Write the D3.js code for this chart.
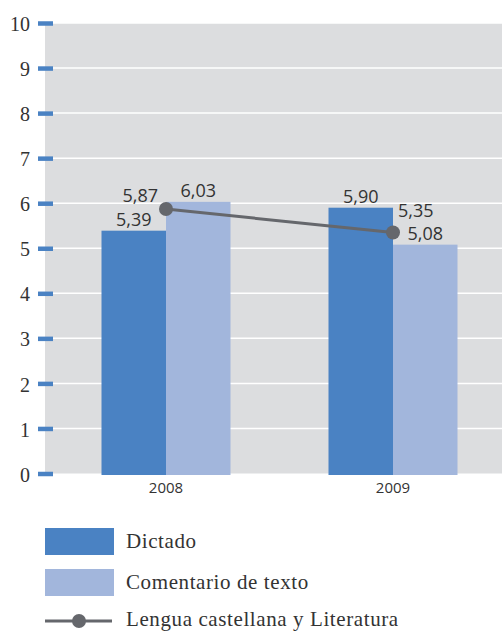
<!DOCTYPE html>
<html><head><meta charset="utf-8">
<script src="https://cdn.jsdelivr.net/npm/d3@7"></script>
<style>body{margin:0;background:#fff}svg{display:block}</style>
</head><body>
<script>
const categories = ["2008", "2009"];
const dictado = [5.39, 5.90];
const comentario = [6.03, 5.08];
const lengua = [5.87, 5.35];
const yTicks = [0,1,2,3,4,5,6,7,8,9,10];
const seriesNames = ["Dictado", "Comentario de texto", "Lengua castellana y Literatura"];

const W = 502, H = 632;
const svg = d3.select("body").append("svg").attr("width", W).attr("height", H);
const plot = {left: 45, right: 502, top: 23, bottom: 473.5};
const y = d3.scaleLinear().domain([0, 10]).range([plot.bottom, plot.top]);
const x = d3.scaleBand().domain(categories).range([52.5, 506.5]).paddingInner(0).paddingOuter(0);
const groupW = 129;
const inner = d3.scaleBand().domain(["d", "c"])
  .range([(x.bandwidth() - groupW) / 2, (x.bandwidth() + groupW) / 2]).padding(0);
const cDict = "#4a82c3", cCom = "#a2b6dc", cLine = "#65676c", txt = "#333";
const serif = "'Liberation Serif', serif";
const sans = "'Open Sans', 'Noto Sans', sans-serif";

svg.append("rect").attr("x", plot.left).attr("y", plot.top)
  .attr("width", plot.right - plot.left).attr("height", plot.bottom - plot.top).attr("fill", "#dcdddf");

// gridlines
svg.append("g").selectAll("line").data(yTicks.filter(d => d > 0)).join("line")
  .attr("x1", plot.left).attr("x2", plot.right)
  .attr("y1", d => y(d)).attr("y2", d => y(d))
  .attr("stroke", "#fff").attr("stroke-width", 1.5);

// axis
const axis = d3.axisLeft(y).tickValues(yTicks).tickSize(0).tickPadding(8).tickFormat(d3.format("d"));
const ag = svg.append("g").attr("transform", `translate(${plot.left - 7},0)`).call(axis);
ag.select(".domain").remove();
ag.selectAll("text").attr("font-family", serif).attr("font-size", 20).attr("fill", txt).attr("dy", "0.38em");
ag.selectAll(".tick").append("line").attr("x1", 0).attr("x2", 15)
  .attr("stroke", cDict).attr("stroke-width", 4.5);

// bars
const g = svg.append("g");
categories.forEach((c, i) => {
  const bx = x(c);
  g.append("rect").attr("x", bx + inner("d")).attr("y", y(dictado[i]))
    .attr("width", inner.bandwidth()).attr("height", y(0) + 1.5 - y(dictado[i])).attr("fill", cDict);
  g.append("rect").attr("x", bx + inner("c")).attr("y", y(comentario[i]))
    .attr("width", inner.bandwidth()).attr("height", y(0) + 1.5 - y(comentario[i])).attr("fill", cCom);
});

// x labels
svg.append("g").selectAll("text").data(categories).join("text")
  .attr("x", d => x(d) + x.bandwidth() / 2).attr("y", 493)
  .attr("text-anchor", "middle").attr("font-family", sans).attr("font-size", 15).attr("fill", txt)
  .text(d => d);

// line
const lx = d => x(d) + x.bandwidth() / 2;
svg.append("path").datum(categories.map((c, i) => [lx(c), y(lengua[i])]))
  .attr("d", d3.line()).attr("fill", "none").attr("stroke", cLine).attr("stroke-width", 3);
svg.append("g").selectAll("circle").data(categories).join("circle")
  .attr("cx", d => lx(d)).attr("cy", (d, i) => y(lengua[i])).attr("r", 7).attr("fill", cLine);

// data labels
const fmt = v => v.toFixed(2).replace(".", ",");
const lab = (xx, yy, t, anchor) => svg.append("text").attr("x", xx).attr("y", yy)
  .attr("text-anchor", anchor || "middle").attr("font-family", sans).attr("font-size", 18)
  .attr("fill", txt).text(t);
categories.forEach((c, i) => {
  const bx = x(c);
  const dC = bx + inner("d") + inner.bandwidth() / 2;
  const cC = bx + inner("c") + inner.bandwidth() / 2;
  lab(dC, y(dictado[i]) - 4.5, fmt(dictado[i]));
  lab(cC, y(comentario[i]) - 4.5, fmt(comentario[i]));
});
lab(lx("2008") - 8, y(lengua[0]) - 7, fmt(lengua[0]), "end");
lab(lx("2009") + 5, y(lengua[1]) - 15, fmt(lengua[1]), "start");

// legend
const lg = svg.append("g").attr("font-family", serif).attr("font-size", 21).attr("fill", txt)
  .attr("letter-spacing", 0.6);
lg.append("rect").attr("x", 45).attr("y", 528).attr("width", 69).attr("height", 27).attr("fill", cDict);
lg.append("text").attr("x", 126).attr("y", 548).text(seriesNames[0]);
lg.append("rect").attr("x", 45).attr("y", 569).attr("width", 69).attr("height", 27).attr("fill", cCom);
lg.append("text").attr("x", 126).attr("y", 589).text(seriesNames[1]);
lg.append("line").attr("x1", 45).attr("x2", 112).attr("y1", 621).attr("y2", 621).attr("stroke", cLine).attr("stroke-width", 3);
lg.append("circle").attr("cx", 79).attr("cy", 621).attr("r", 7).attr("fill", cLine);
lg.append("text").attr("x", 126).attr("y", 626).text(seriesNames[2]);
</script>
</body></html>
